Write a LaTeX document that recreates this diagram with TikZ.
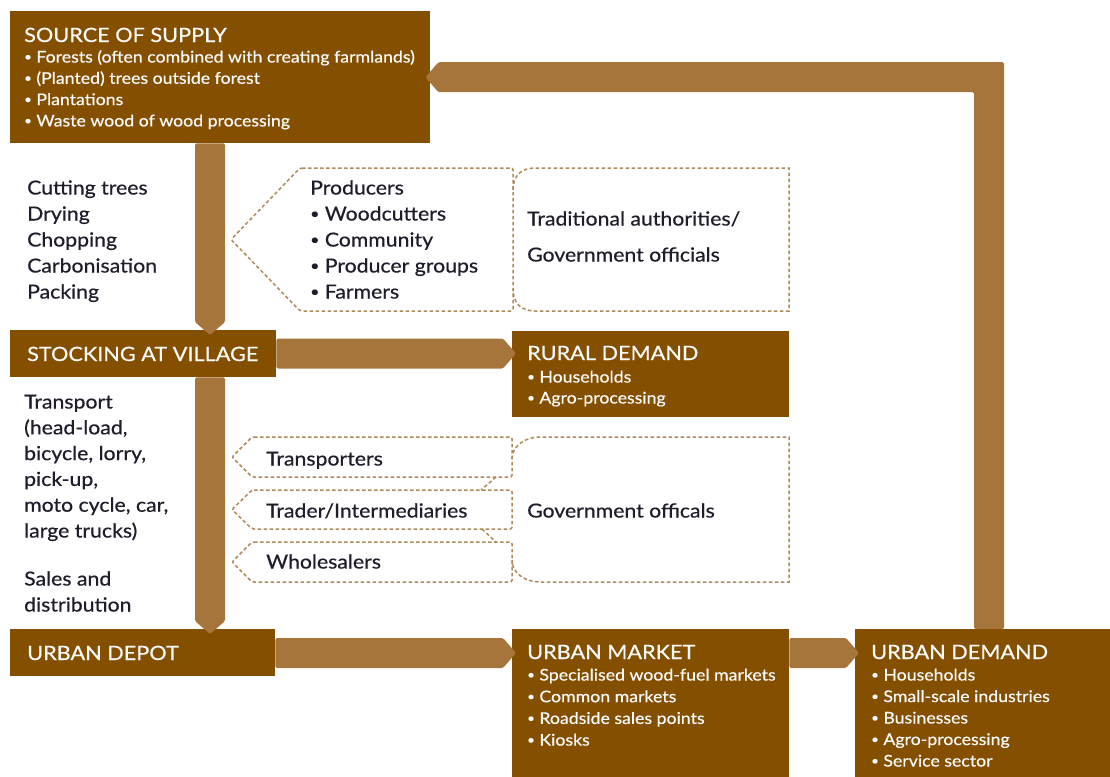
\documentclass[tikz,border=0pt]{standalone}
\usepackage{fontspec}
\setmainfont{Lato}[FakeStretch=1.10,FakeBold=0.5]
\usetikzlibrary{calc}
\definecolor{boxc}{HTML}{854F00}
\definecolor{arrc}{HTML}{A6753C}
\definecolor{dashc}{HTML}{B0895A}
\definecolor{txtc}{HTML}{1D1D2C}
\definecolor{boxtxt}{HTML}{FAFAFA}
\newcommand\lns[2]{\vtop{\baselineskip=#1\relax\lineskiplimit=-50pt\lineskip=0pt\halign{##\hfil\cr#2\crcr}}}
\newcommand\bl{\raisebox{0.1em}{\scalebox{0.75}{•}}\hspace{0.28em}}
% vertical block arrow: #1 x (px), #2 from, #3 to (top edge of target)
\newcommand\varr[3]{\fill[arr] let \p1=(#2), \p2=(#3) in
  (#1pt-15pt,\y1) -- (#1pt-15pt,\y2+8pt) -- (#1pt,\y2-5pt) -- (#1pt+15pt,\y2+8pt) -- (#1pt+15pt,\y1) -- cycle;}
% horizontal block arrow: #1 y (px), #2 from, #3 to (left edge of target)
\newcommand\harr[3]{\fill[arr] let \p1=(#2), \p2=(#3) in
  (\x1,-#1pt+15pt) -- (\x2-9pt,-#1pt+15pt) -- (\x2+4pt,-#1pt) -- (\x2-9pt,-#1pt-15pt) -- (\x1,-#1pt-15pt) -- cycle;}
\begin{document}
\begin{tikzpicture}[x=1pt,y=-1pt,
  box/.style={fill=boxc, draw=none, inner sep=0pt, anchor=north west},
  ttl/.style={anchor=base west, inner sep=0pt, text=boxtxt, font=\fontsize{19.7}{22}\selectfont},
  blt/.style={anchor=base west, inner sep=0pt, text=boxtxt, font=\fontsize{16.1}{18}\selectfont},
  body/.style={anchor=base west, inner sep=0pt, text=txtc, font=\fontsize{19.3}{22}\selectfont},
  dsh/.style={draw=dashc, line width=1.5pt, dash pattern=on 3.5pt off 2.5pt},
  arr/.style={fill=arrc, rounded corners=1.5pt}]
\useasboundingbox (0,0) rectangle (1110,776);
\fill[white] (0,0) rectangle (1110,776);
% boxes
\node[box, minimum width=420pt, minimum height=132pt] (src) at (10,11) {};
\node[box, minimum width=266pt, minimum height=47pt] (stock) at (10,330) {};
\node[box, minimum width=277pt, minimum height=86pt] (rural) at (512,331) {};
\node[box, minimum width=265pt, minimum height=47pt] (depot) at (10,629) {};
\node[box, minimum width=277pt, minimum height=150pt] (market) at (512,629) {};
\node[box, minimum width=258pt, minimum height=150pt] (demand) at (855,629) {};
% arrows
\varr{210}{src.south}{stock.north}
\varr{210}{stock.south}{depot.north}
\harr{353.5}{stock.east}{rural.west}
\harr{653}{depot.east}{market.west}
\harr{653}{market.east}{demand.west}
\fill[arr] let \p1=(demand.north), \p2=(src.east) in
  (974pt,\y1) -- (974pt,\y2-15pt) -- (\x2+8pt,\y2-15pt) -- (\x2-5pt,\y2) -- (\x2+8pt,\y2+15pt) -- (1004pt,\y2+15pt) -- (1004pt,\y1) -- cycle;
% dashed shapes
\draw[dsh, rounded corners=2pt] (300,168) -- (513,168) -- (513,311) -- (300,311) -- (231,239.5) -- cycle;
\draw[dsh] (513,190) .. controls (513,176) and (521,168) .. (535,168) -- (789,168) -- (789,311) -- (535,311) .. controls (521,311) and (513,303) .. (513,289);
\draw[dsh, rounded corners=2pt] (252,437) -- (512,437) -- (512,477) -- (252,477) -- (232,457) -- cycle;
\draw[dsh, rounded corners=2pt] (252,490) -- (512,490) -- (512,529) -- (252,529) -- (232,509.5) -- cycle;
\draw[dsh, rounded corners=2pt] (252,542) -- (512,542) -- (512,582) -- (252,582) -- (232,562) -- cycle;
\draw[dsh] (512,459) .. controls (512,446) and (525,437) .. (540,437) -- (789,437) -- (789,582) -- (540,582) .. controls (525,582) and (512,573) .. (512,560);
\draw[dsh] (496,477) -- (481,490);
\draw[dsh] (482,529) -- (496,542);
% texts
\node[ttl] (tsrc) at (24,42) {SOURCE OF SUPPLY};
\node[blt] (bsrc) at (24,62.5) {\lns{21.3pt}{\bl Forests (often combined with creating farmlands)\cr \bl (Planted) trees outside forest\cr \bl Plantations\cr \bl Waste wood of wood processing}};
\node[body] (tcut) at (27,194.5) {\lns{26pt}{Cutting trees\cr Drying\cr Chopping\cr Carbonisation\cr Packing}};
\node[body] (tprod) at (310,194.5) {\lns{26pt}{Producers\cr \bl Woodcutters\cr \bl Community\cr \bl Producer groups\cr \bl Farmers}};
\node[body] (ttrad) at (527,225.5) {\lns{36pt}{Traditional authorities/\cr Government officials}};
\node[ttl] (tstock) at (27,361) {STOCKING AT VILLAGE};
\node[ttl] (trural) at (527,360) {RURAL DEMAND};
\node[blt] (brural) at (527,382.5) {\lns{21pt}{\bl Households\cr \bl Agro-processing}};
\node[body] (ttrans) at (24,408.5) {\lns{25.8pt}{Transport\cr (head-load,\cr bicycle, lorry,\cr pick-up,\cr moto cycle, car,\cr large trucks)}};
\node[body] (tsales) at (24,585.5) {\lns{26pt}{Sales and\cr distribution}};
\node[body] (ttp) at (266,465.5) {Transporters};
\node[body] (ttr) at (266,517.5) {Trader/Intermediaries};
\node[body] (twh) at (266,568.5) {Wholesalers};
\node[body] (tgov) at (527,517.5) {Government officals};
\node[ttl] (tdepot) at (27,660) {URBAN DEPOT};
\node[ttl] (tmarket) at (527,659) {URBAN MARKET};
\node[blt] (bmarket) at (527,680.5) {\lns{21.7pt}{\bl Specialised wood-fuel markets\cr \bl Common markets\cr \bl Roadside sales points\cr \bl Kiosks}};
\node[ttl] (tdemand) at (871,659) {URBAN DEMAND};
\node[blt] (bdemand) at (871,680.5) {\lns{21.5pt}{\bl Households\cr \bl Small-scale industries\cr \bl Businesses\cr \bl Agro-processing\cr \bl Service sector}};
\end{tikzpicture}
\end{document}
